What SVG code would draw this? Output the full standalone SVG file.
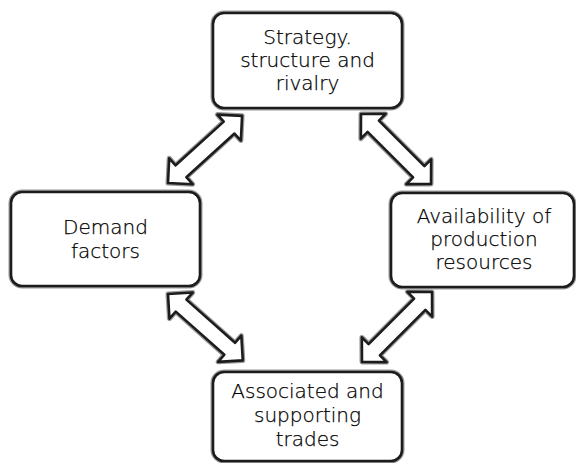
<svg xmlns="http://www.w3.org/2000/svg" xmlns:xlink="http://www.w3.org/1999/xlink" width="576" height="463" viewBox="0 0 576 463">
  <style>
    .halo { fill: none; stroke: #9a9a9a; stroke-width: 5; stroke-linejoin: round; }
    .edge { fill: #ffffff; stroke: #1c1c1c; stroke-width: 2.6; stroke-linejoin: round; }
    .label { font-family: "DejaVu Sans", "Liberation Sans", sans-serif; font-size: 20px; font-weight: 300; fill: #000000; stroke: #000000; stroke-width: 0.25; text-anchor: middle; }
  </style>
  <defs>
    <!-- double-headed block arrow, 100 long, tips at x=0 and x=100 -->
    <path id="dbl-arrow" d="M0,0 L17.5,-17.5 L17.5,-8 L82.5,-8 L82.5,-17.5 L100,0 L82.5,17.5 L82.5,8 L17.5,8 L17.5,17.5 Z"/>
  </defs>
  <rect width="576" height="463" fill="#ffffff"/>

  <g id="connectors">
    <g transform="translate(168,183) rotate(-42.2)">
      <use xlink:href="#dbl-arrow" class="halo"/>
      <use xlink:href="#dbl-arrow" class="edge"/>
    </g>
    <g transform="translate(361,114) rotate(45) scale(0.99,1)">
      <use xlink:href="#dbl-arrow" class="halo"/>
      <use xlink:href="#dbl-arrow" class="edge"/>
    </g>
    <g transform="translate(168,294) rotate(41.6)">
      <use xlink:href="#dbl-arrow" class="halo"/>
      <use xlink:href="#dbl-arrow" class="edge"/>
    </g>
    <g transform="translate(362,362) rotate(-45) scale(0.99,1)">
      <use xlink:href="#dbl-arrow" class="halo"/>
      <use xlink:href="#dbl-arrow" class="edge"/>
    </g>
  </g>

  <g id="strategy">
    <rect x="213" y="13" width="189" height="95" rx="11" class="halo"/>
    <rect x="213" y="13" width="189" height="95" rx="11" class="edge"/>
    <text class="label" x="307.5" y="44">Strategy.</text>
    <text class="label" x="307.5" y="67">structure and</text>
    <text class="label" x="307.5" y="89.5">rivalry</text>
  </g>

  <g id="demand">
    <rect x="11" y="192" width="189" height="94" rx="11" class="halo"/>
    <rect x="11" y="192" width="189" height="94" rx="11" class="edge"/>
    <text class="label" x="105.5" y="234">Demand</text>
    <text class="label" x="105.5" y="257.5">factors</text>
  </g>

  <g id="resources">
    <rect x="391" y="193" width="183" height="94" rx="11" class="halo"/>
    <rect x="391" y="193" width="183" height="94" rx="11" class="edge"/>
    <text class="label" x="484" y="223">Availability of</text>
    <text class="label" x="484" y="246">production</text>
    <text class="label" x="484" y="269">resources</text>
  </g>

  <g id="trades">
    <rect x="213" y="372" width="189" height="89" rx="11" class="halo"/>
    <rect x="213" y="372" width="189" height="89" rx="11" class="edge"/>
    <text class="label" x="307.5" y="398">Associated and</text>
    <text class="label" x="307.5" y="421.5">supporting</text>
    <text class="label" x="307.5" y="445.5">trades</text>
  </g>
</svg>
